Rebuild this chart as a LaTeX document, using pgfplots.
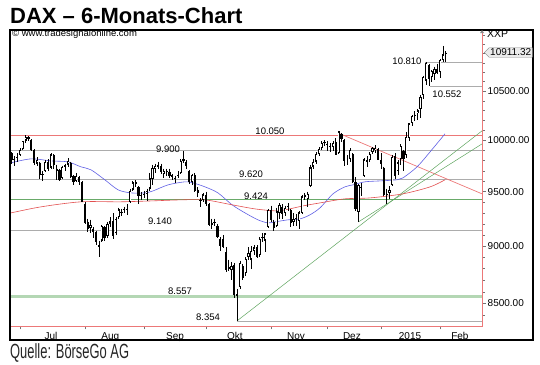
\documentclass[border=0pt]{standalone}
\usepackage{fontspec}
\setmainfont{Liberation Sans}
\usepackage{graphicx}
\usepackage{pgfplots}
\pgfplotsset{compat=1.18}
\usepackage{pgfplotstable}
\usetikzlibrary{shapes.symbols}

\definecolor{axred}{RGB}{236,120,120}
\definecolor{mared}{RGB}{226,80,80}
\definecolor{mablue}{RGB}{95,95,228}
\definecolor{lgray}{RGB}{172,172,172}
\definecolor{lgreen}{RGB}{105,170,105}
\definecolor{bgreen}{RGB}{180,215,180}
\definecolor{tgreen}{RGB}{95,165,95}

% idx: trading days, 0 = 1 Jul 2014
\pgfplotstableread{
x o h l c
-3 9870 9880 9770 9805
-2 9800 9840 9750 9815
-1 9820 9870 9790 9833
0 9850 9920 9840 9902
1 9910 9990 9900 9990
2 9995 10051 9970 10029
3 10030 10040 9990 10009
4 10000 10010 9890 9906
5 9900 9910 9760 9772
6 9770 9830 9750 9809
7 9780 9790 9620 9659
8 9660 9700 9600 9666
9 9700 9800 9690 9783
10 9790 9810 9700 9719
11 9730 9870 9720 9859
12 9850 9860 9720 9753
13 9700 9760 9610 9720
14 9710 9720 9600 9613
15 9630 9750 9620 9734
16 9740 9770 9700 9753
17 9760 9820 9740 9795
18 9780 9790 9630 9644
19 9650 9660 9560 9593
20 9600 9680 9590 9653
21 9640 9650 9560 9593
22 9590 9600 9400 9407
23 9380 9400 9200 9210
24 9220 9250 9130 9154
25 9160 9240 9120 9189
26 9150 9170 9070 9130
27 9130 9140 9010 9038
28 8990 9050 8903 9010
29 9050 9190 9040 9180
30 9170 9180 9050 9069
31 9090 9220 9070 9199
32 9200 9260 9170 9225
33 9230 9300 9060 9092
34 9120 9260 9100 9245
35 9260 9350 9250 9334
36 9310 9340 9270 9314
37 9330 9360 9300 9339
38 9340 9380 9280 9339
39 9400 9530 9390 9510
40 9520 9600 9510 9588
41 9590 9610 9540 9569
42 9540 9550 9380 9462
43 9460 9500 9420 9470
44 9480 9510 9440 9479
45 9480 9530 9410 9507
46 9530 9680 9510 9626
47 9620 9760 9560 9724
48 9720 9770 9680 9747
49 9740 9790 9720 9758
50 9750 9770 9670 9687
51 9670 9720 9630 9700
52 9700 9720 9650 9691
53 9690 9720 9630 9651
54 9640 9670 9610 9659
55 9630 9650 9580 9632
56 9650 9700 9630 9661
57 9680 9810 9670 9799
58 9810 9891 9780 9799
59 9790 9800 9720 9749
60 9700 9710 9570 9595
61 9590 9670 9560 9661
62 9660 9680 9500 9510
63 9520 9540 9450 9490
64 9420 9440 9360 9422
65 9420 9490 9400 9474
66 9470 9500 9370 9382
67 9380 9390 9180 9195
68 9210 9250 9150 9195
69 9220 9250 9180 9209
70 9180 9200 9070 9086
71 9060 9080 8960 9005
72 9060 9100 8980 8996
73 8950 8990 8770 8788
74 8800 8880 8780 8812
75 8790 8860 8700 8826
76 8830 8850 8550 8572
77 8560 8620 8355 8583
78 8640 8870 8620 8850
79 8820 8840 8700 8717
80 8760 8900 8740 8887
81 8900 8990 8880 8940
82 8880 9000 8800 8954
83 8960 9010 8920 8988
84 8990 9010 8890 8903
85 8920 9080 8900 9068
86 9080 9120 9040 9083
87 9050 9120 8950 9115
88 9170 9340 9160 9327
89 9330 9370 9220 9235
90 9220 9240 9140 9167
91 9180 9350 9170 9316
92 9300 9390 9250 9378
93 9360 9380 9250 9291
94 9300 9370 9270 9351
95 9360 9390 9320 9370
96 9330 9340 9170 9210
97 9220 9300 9180 9248
98 9250 9290 9180 9252
99 9230 9320 9150 9307
100 9300 9470 9290 9456
101 9450 9490 9420 9473
102 9430 9500 9360 9483
103 9550 9760 9540 9732
104 9740 9810 9720 9785
105 9790 9880 9770 9861
106 9860 9930 9840 9915
107 9920 9990 9900 9974
108 9970 10000 9940 9980
109 9960 9990 9890 9963
110 9940 9970 9880 9935
111 9930 9990 9890 9972
112 9980 10020 9850 9851
113 9870 10093 9860 10087
114 10060 10070 9980 10014
115 10000 10010 9750 9799
116 9800 9850 9760 9800
117 9810 9920 9790 9903
118 9860 9870 9580 9594
119 9590 9640 9320 9335
120 9310 9570 9219 9563
121 9540 9580 9460 9544
122 9650 9820 9640 9811
123 9800 9840 9740 9787
124 9800 9880 9790 9865
125 9880 9930 9860 9922
126 9900 9950 9870 9927
127 9910 9920 9800 9806
128 9800 9870 9720 9765
129 9730 9740 9460 9473
130 9480 9530 9382 9469
131 9490 9550 9430 9518
132 9560 9850 9550 9838
133 9840 9870 9620 9649
134 9700 9800 9660 9782
135 9810 9960 9760 9941
136 9890 9900 9700 9818
137 9850 10080 9820 10032
138 10020 10170 9990 10168
139 10170 10250 10140 10242
140 10250 10290 10190 10257
141 10270 10310 10200 10300
142 10310 10460 10220 10436
143 10460 10660 10420 10649
144 10610 10810 10560 10799
145 10780 10790 10552 10628
146 10650 10720 10600 10710
147 10680 10760 10620 10738
148 10730 10790 10680 10694
149 10700 10840 10640 10828
150 10830 10985 10810 10891
151 10890 10930 10810 10911
}\ohlc

\begin{document}
\begin{tikzpicture}
\useasboundingbox (0,0) rectangle (540bp,-365bp);
\begin{axis}[
  at={(11bp,-327bp)}, anchor=south west,
  scale only axis, width=471bp, height=297bp,
  xmin=-3.19, xmax=163.83,
  ymode=log, ymin=8304.6, ymax=11160,
  axis x line*=bottom, axis y line*=right,
  axis line style={draw=axred, line width=0.9bp},
  xtick={11,32,55,76.2,97.9,117.7,138.3,156},
  xticklabels={Jul,Aug,Sep,Okt,Nov,Dez,2015,Feb},
  minor xtick={0,23,44,66,89,109,128,149},
  ytick={8500,9000,9500,10000,10500},
  yticklabels={8500.00,9000.00,9500.00,10000.00,10500.00},
  minor ytick={8400,8600,8700,8800,8900,9100,9200,9300,9400,9600,9700,9800,9900,10100,10200,10300,10400,10600,10700,10800,10900,11000,11100},
  tick align=outside,
  major tick length=4bp, minor tick length=2.5bp,
  tick style={black!55, line width=0.5bp},
  major x tick style={draw=none},
  tick label style={font=\fontsize{10bp}{12bp}\selectfont, text=black},
  yticklabel style={anchor=west, inner sep=0pt, xshift=1.5bp},
  xticklabel style={anchor=base, inner sep=0pt, yshift=-9bp},
]
% horizontal levels
\addplot[lgray, line width=0.6bp, forget plot] coordinates {(-3.19,9900) (163.83,9900)};
\addplot[lgray, line width=0.6bp, forget plot] coordinates {(-3.19,9620) (163.83,9620)};
\addplot[lgray, line width=0.6bp, forget plot] coordinates {(-3.19,9140) (163.83,9140)};
\addplot[lgray, line width=0.6bp, forget plot] coordinates {(77,8354) (163.83,8354)};
\addplot[lgray, line width=0.6bp, forget plot] coordinates {(143.6,10810) (163.83,10810)};
\addplot[lgray, line width=0.6bp, forget plot] coordinates {(145.4,10552) (163.83,10552)};
\addplot[lgreen, line width=0.7bp, forget plot] coordinates {(-3.19,9424) (163.83,9424)};
\addplot[bgreen, line width=2.8bp, forget plot] coordinates {(-3.19,8557) (163.83,8557)};
\addplot[axred, line width=0.7bp, forget plot] coordinates {(-3.19,10050) (163.83,10050)};
% trend lines
\addplot[axred, line width=0.7bp, forget plot] coordinates {(113.5,10063) (163.83,9480)};
\addplot[tgreen, line width=0.5bp, forget plot] coordinates {(77,8355) (163.83,10093)};
\addplot[tgreen, line width=0.5bp, forget plot] coordinates {(120,9219) (163.83,9963)};
% moving averages
\addplot[mablue, line width=0.6bp, smooth, tension=0.5, forget plot] coordinates {
(-3.19,9777) (3.9,9816) (11.0,9796) (17.0,9786) (21.6,9738) (25.2,9709) (30.1,9613)
(34.8,9518) (39.4,9489) (44.3,9489) (47.2,9508) (52.5,9565) (58.5,9594) (61.3,9584)
(65.6,9546) (70.2,9489) (75.2,9377) (79.8,9302) (84.4,9238) (87.9,9210) (90.4,9219)
(95,9238) (99.3,9247) (102.8,9284) (106.4,9349) (111.0,9480) (115.2,9546) (118.1,9565)
(122.3,9594) (127.7,9603) (133.7,9613) (135.8,9632) (140.8,9738) (145.4,9884) (150.7,10063)};
\addplot[mared, line width=0.6bp, smooth, tension=0.5, forget plot] coordinates {
(-3.19,9302) (7.4,9358) (21.6,9405) (35.5,9405) (47.2,9414) (56.7,9423) (65.6,9423)
(75.2,9377) (83.3,9339) (90.4,9321) (94.0,9330) (100.4,9367) (106.4,9395) (115.2,9433)
(124.1,9442) (135.8,9480) (145.4,9546) (150.7,9613)};
% candles: wicks
\addplot[draw=none, mark=none, forget plot,
  error bars/.cd, y dir=minus, y explicit, error mark=none,
  error bar style={draw=black, line width=0.7bp}]
  table[x=x, y=h, y error minus expr=\thisrow{h}-\thisrow{l}] {\ohlc};
% bodies
\addplot[draw=none, mark=none, forget plot,
  error bars/.cd, y dir=minus, y explicit, error mark=none,
  error bar style={draw=black, line width=2.2bp}]
  table[x=x, y expr={max(\thisrow{o},\thisrow{c})}, y error minus expr={abs(\thisrow{o}-\thisrow{c})}] {\ohlc};
% hollow up-candles
\addplot[draw=none, mark=none, forget plot,
  error bars/.cd, y dir=minus, y explicit, error mark=none,
  error bar style={draw=white, line width=0.8bp}]
  table[x=x, y expr={(\thisrow{c}>\thisrow{o}+25) ? \thisrow{c}*0.9988 : nan},
        y error minus expr={max(\thisrow{c}*0.9988-\thisrow{o}*1.0012,0)}] {\ohlc};
\end{axis}
\begin{scope}[x=1bp,y=-1bp]
\draw[black, line width=1.2bp] (10,30) rectangle (533,340);
\node[anchor=base west, inner sep=0pt, font=\fontsize{22bp}{26bp}\selectfont\bfseries] at (10,23) {DAX – 6-Monats-Chart};
\node[anchor=base west, inner sep=0pt, text=black!85] at (10,358) {\scalebox{0.63}[1]{\fontsize{20.5bp}{24bp}\selectfont Quelle: BörseGo AG}};
\node[anchor=base west, inner sep=0pt, font=\fontsize{9.5bp}{11bp}\selectfont] at (12,36.5) {© www.tradesignalonline.com};
\node[anchor=base west, inner sep=0pt, font=\fontsize{10.5bp}{12bp}\selectfont] at (487,37) {XXP};
\fill[black!45] (480,33) -- (484,33) -- (482,30) -- cycle;
\node[signal, signal to=west, draw=black!50, fill=black!8, inner sep=1.2bp, anchor=west, font=\fontsize{10bp}{12bp}\selectfont] at (484,52.5) {10911.32};
\begin{scope}[every node/.style={font=\fontsize{9.5bp}{11bp}\selectfont, inner sep=0pt}]
\node at (270,131) {10.050};
\node at (168,149) {9.900};
\node at (251,174.5) {9.620};
\node at (256,196) {9.424};
\node at (160,221) {9.140};
\node at (180,291) {8.557};
\node at (208,317.5) {8.354};
\node at (407,61.5) {10.810};
\node at (447,94.5) {10.552};
\end{scope}
\end{scope}
\end{tikzpicture}
\end{document}
